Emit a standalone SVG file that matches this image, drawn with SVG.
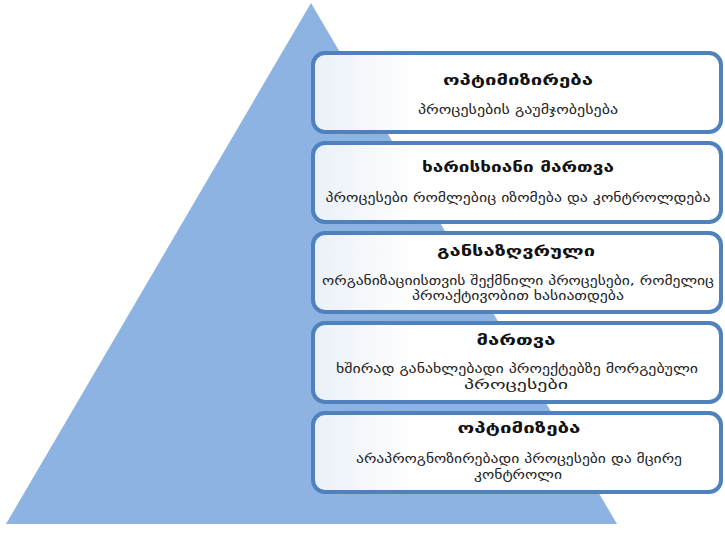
<svg xmlns="http://www.w3.org/2000/svg" width="725" height="539" viewBox="0 0 725 539">
  <defs>
    <linearGradient id="boxFill" x1="0" y1="0" x2="1" y2="0">
      <stop offset="0" stop-color="#eaf0f8"/>
      <stop offset="0.25" stop-color="#ffffff"/>
      <stop offset="1" stop-color="#ffffff"/>
    </linearGradient>
  </defs>
  <style>
    .box { fill: url(#boxFill); stroke: #4f81bd; stroke-width: 4; }
    .title { font-family: "DejaVu Sans", "Noto Sans", sans-serif; font-size: 15px; font-weight: bold; fill: #111; text-anchor: middle; }
    .sub { font-family: "DejaVu Sans", "Noto Sans", sans-serif; font-size: 12px; fill: #222; text-anchor: middle; }
  </style>
  <rect x="0" y="0" width="725" height="539" fill="#ffffff"/>
  <polygon id="pyramid" points="311,3 617,524 6,524" fill="#8db3e2"/>

  <g id="level5">
    <rect class="box" x="313" y="53" width="408" height="79" rx="12"/>
    <text class="title" x="518" y="85" textLength="150" lengthAdjust="spacingAndGlyphs">ოპტიმიზირება</text>
    <text class="sub" x="518" y="114" textLength="200" lengthAdjust="spacingAndGlyphs">პროცესების გაუმჯობესება</text>
  </g>
  <g id="level4">
    <rect class="box" x="313" y="143" width="408" height="79" rx="12"/>
    <text class="title" x="518" y="172" textLength="192" lengthAdjust="spacingAndGlyphs">ხარისხიანი მართვა</text>
    <text class="sub" x="518" y="202" textLength="385" lengthAdjust="spacingAndGlyphs">პროცესები რომლებიც იზომება და კონტროლდება</text>
  </g>
  <g id="level3">
    <rect class="box" x="313" y="233" width="408" height="79" rx="12"/>
    <text class="title" x="516" y="256" textLength="158" lengthAdjust="spacingAndGlyphs">განსაზღვრული</text>
    <text class="sub" x="518" y="285" textLength="392" lengthAdjust="spacingAndGlyphs">ორგანიზაციისთვის შექმნილი პროცესები, რომელიც</text>
    <text class="sub" x="518" y="300" textLength="212" lengthAdjust="spacingAndGlyphs">პროაქტივობით ხასიათდება</text>
  </g>
  <g id="level2">
    <rect class="box" x="313" y="323" width="408" height="79" rx="12"/>
    <text class="title" x="516" y="345" textLength="79" lengthAdjust="spacingAndGlyphs">მართვა</text>
    <text class="sub" x="517" y="373" textLength="362" lengthAdjust="spacingAndGlyphs">ხშირად განახლებადი პროექტებზე მორგებული</text>
    <text class="sub" x="516" y="389" textLength="104" lengthAdjust="spacingAndGlyphs">პროცესები</text>
  </g>
  <g id="level1">
    <rect class="box" x="313" y="413" width="408" height="79" rx="12"/>
    <text class="title" x="519" y="433" textLength="123" lengthAdjust="spacingAndGlyphs">ოპტიმიზება</text>
    <text class="sub" x="519" y="463" textLength="326" lengthAdjust="spacingAndGlyphs">არაპროგნოზირებადი პროცესები და მცირე</text>
    <text class="sub" x="518" y="479" textLength="88" lengthAdjust="spacingAndGlyphs">კონტროლი</text>
  </g>
  <g id="connectors"/>
</svg>
